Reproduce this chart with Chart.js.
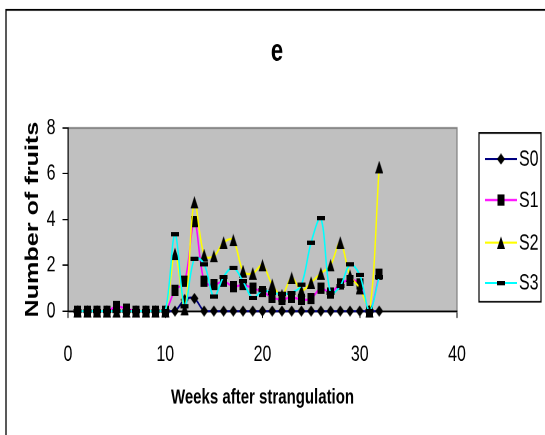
<!DOCTYPE html>
<html><head><meta charset="utf-8">
<script src="https://cdn.jsdelivr.net/npm/chart.js@4.4.1/dist/chart.umd.min.js"></script>
<style>
html,body{margin:0;padding:0;background:#fff;overflow:hidden;}
#wrap{position:absolute;left:0;top:0;width:545px;height:311px;transform:scaleY(1.39871);transform-origin:0 0;}
</style></head><body>
<div id="wrap"><canvas id="c"></canvas></div>
<script>
// ---- data ----
const weeks = [1,2,3,4,5,6,7,8,9,10,11,12,13,14,15,16,17,18,19,20,21,22,23,24,25,26,27,28,29,30,31,32];
const s0 = [0,0,0,0,0,0,0,0,0,0, 0,0.5,0.55,0,0,0,0,0,0,0, 0,0,0,0,0,0,0,0,0,0, 0,0];
const s1 = [0,0,0,0,0.2,0.1,0,0,0,0, 0.9,1.3,3.9,1.3,1.15,1.3,1.07,1.15,1.0,0.85, 0.6,0.5,0.6,0.5,0.55,1.0,0.8,1.2,1.35,1.2, 0,1.6];
const s2 = [0,0,0,0,0,0,0,0,0,0, 2.5,0.1,4.75,2.45,2.4,3.0,3.1,1.75,1.65,2.0, 1.15,0.7,1.45,0.9,1.25,1.65,2.0,3.0,1.55,1.0, 0,6.3];
const s3 = [0,0,0,0,0,0,0,0,0,0, 3.35,0.2,2.3,2.05,0.63,1.5,1.9,1.3,0.57,0.9, 0.8,0.75,0.8,1.15,3.0,4.05,0.8,1.1,2.03,1.58, 0,1.5];
const seriesNames = ['S0','S1','S2','S3'];
const xTickValues = [0,10,20,30,40];
const yTickValues = [0,2,4,6,8];
const chartTitle = 'e';
const xTitle = 'Weeks after strangulation';
const yTitle = 'Number of fruits';

const FONT = "'Liberation Sans', Arial, sans-serif";

function makeMarker(kind, w, h) {
  const k = 4;
  const c = document.createElement('canvas');
  c.width = w * k; c.height = h * k;
  const g = c.getContext('2d');
  g.scale(k, k);
  g.fillStyle = '#000';
  g.beginPath();
  if (kind === 'diamond') {
    g.moveTo(w / 2, 0); g.lineTo(w, h / 2); g.lineTo(w / 2, h); g.lineTo(0, h / 2);
  } else if (kind === 'triangle') {
    g.moveTo(w / 2, 0); g.lineTo(w, h); g.lineTo(0, h);
  } else {
    g.rect(0, 0, w, h);
  }
  g.closePath();
  g.fill();
  const img = new Image(w, h);
  img.src = c.toDataURL();
  return img;
}

const markers = [
  makeMarker('diamond', 8, 8),
  makeMarker('rect', 7, 8),
  makeMarker('triangle', 8, 9),
  makeMarker('rect', 8, 3)
];
const lineColors = ['#000080', '#FF00FF', '#FFFF00', '#00FFFF'];
const seriesValues = [s0, s1, s2, s3];

const decorPlugin = {
  id: 'decor',
  beforeDraw(chart) {
    const ctx = chart.ctx, a = chart.chartArea;
    ctx.save();
    ctx.fillStyle = '#fff';
    ctx.fillRect(0, 0, chart.width, chart.height);
    ctx.strokeStyle = '#000';
    ctx.lineWidth = 1.3;
    ctx.strokeRect(6, 7.1, 600, 400);
    ctx.fillStyle = '#C0C0C0';
    ctx.fillRect(a.left, a.top, a.right - a.left, a.bottom - a.top);
    ctx.strokeStyle = '#808080';
    ctx.lineWidth = 1.2;
    ctx.beginPath();
    ctx.moveTo(a.left, a.top); ctx.lineTo(a.right, a.top); ctx.lineTo(a.right, a.bottom);
    ctx.stroke();
    ctx.restore();
  },
  afterDraw(chart) {
    const ctx = chart.ctx;
    ctx.save();
    // title
    ctx.fillStyle = '#000';
    ctx.font = 'bold 22px ' + FONT;
    ctx.textAlign = 'center';
    ctx.textBaseline = 'alphabetic';
    ctx.fillText(chartTitle, 277, 43.5);
    // legend
    const bx = 479, by = 95.1, bw = 62, bh = 120.6;
    ctx.fillStyle = '#fff';
    ctx.fillRect(bx, by, bw, bh);
    ctx.strokeStyle = '#000';
    ctx.lineWidth = 1.2;
    ctx.strokeRect(bx, by, bw, bh);
    const ys = [113.7, 143.0, 173.5, 202.3];
    seriesNames.forEach((name, i) => {
      const y = ys[i];
      ctx.strokeStyle = lineColors[i];
      ctx.lineWidth = 1.5;
      ctx.beginPath(); ctx.moveTo(485, y); ctx.lineTo(517, y); ctx.stroke();
      const m = markers[i];
      ctx.drawImage(m, 501 - m.width / 2, y - m.height / 2, m.width, m.height);
      ctx.fillStyle = '#000';
      ctx.font = '16px ' + FONT;
      ctx.textAlign = 'left';
      ctx.textBaseline = 'middle';
      ctx.fillText(name, 519, y + 0.5);
    });
    ctx.restore();
  }
};

Promise.all(markers.map(m => m.decode().catch(() => {}))).then(() => {
  const datasets = seriesNames.map((name, i) => ({
    label: name,
    data: weeks.map((w, j) => ({ x: w, y: seriesValues[i][j] })),
    borderColor: lineColors[i],
    backgroundColor: lineColors[i],
    borderWidth: 1.5,
    pointStyle: markers[i],
    pointRadius: 4,
    tension: 0.35,
    clip: false,
    order: 3 - i
  }));

  new Chart(document.getElementById('c'), {
    type: 'line',
    data: { datasets },
    options: {
      responsive: true,
      maintainAspectRatio: false,
      devicePixelRatio: 2,
      animation: false,
      events: [],
      layout: { padding: { left: 0, right: 88, top: 91.5, bottom: 0 } },
      plugins: { legend: { display: false }, tooltip: { enabled: false }, title: { display: false } },
      scales: {
        x: {
          type: 'linear', min: 0, max: 40,
          afterBuildTicks: s => { s.ticks = xTickValues.map(v => ({ value: v })); },
          afterFit: s => { s.height = 88.6; },
          grid: { drawOnChartArea: false, drawTicks: true, tickLength: 5, color: '#000', lineWidth: 1 },
          border: { display: true, color: '#000', width: 1.3 },
          ticks: { color: '#000', font: { family: FONT, size: 16 }, padding: 16.8, maxRotation: 0 },
          title: { display: true, text: xTitle, color: '#000', font: { family: FONT, size: 15, weight: 'bold' }, padding: { top: 0, bottom: 17.5 } }
        },
        y: {
          type: 'linear', min: 0, max: 8,
          afterBuildTicks: s => { s.ticks = yTickValues.map(v => ({ value: v })); },
          afterFit: s => { s.width = 68; },
          grid: { drawOnChartArea: false, drawTicks: true, tickLength: 5.5, color: '#000', lineWidth: 1 },
          border: { display: true, color: '#000', width: 1.2 },
          ticks: { color: '#000', font: { family: FONT, size: 16 }, padding: 7 },
          title: { display: true, text: yTitle, color: '#000', font: { family: FONT, size: 18, weight: 'bold' }, padding: { top: 22.2, bottom: 0 } }
        }
      }
    },
    plugins: [decorPlugin]
  });
});
</script>
</body></html>
